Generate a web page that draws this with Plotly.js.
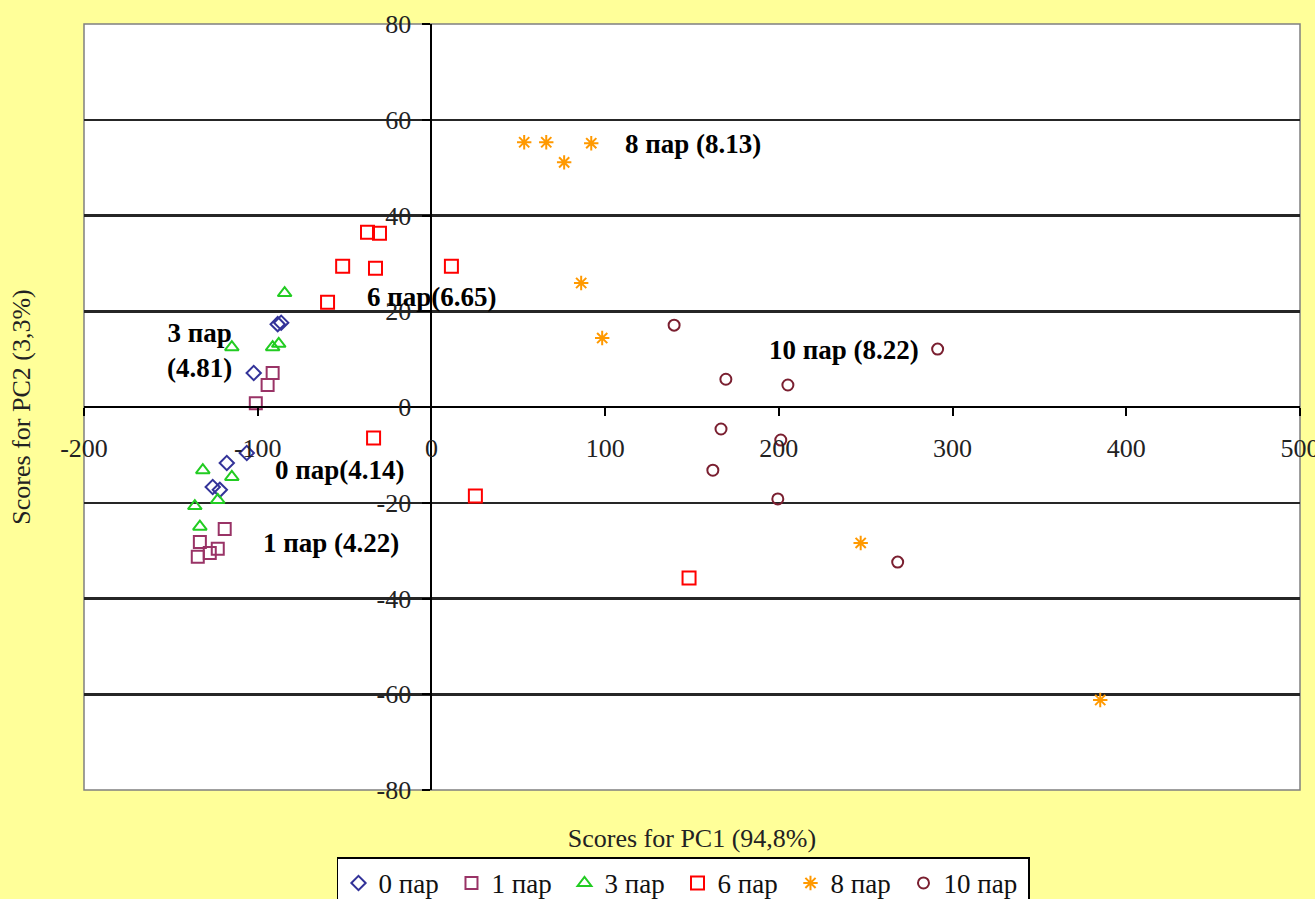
<!DOCTYPE html>
<html>
<head>
<meta charset="utf-8">
<script src="https://cdn.plot.ly/plotly-3.0.1.min.js"></script>
<style>
  html, body { margin: 0; padding: 0; background: #FFFF99; }
  #chart { width: 1315px; height: 899px; }
</style>
</head>
<body>
<div id="chart"></div>
<script>
// PCA scores (PC1, PC2) per group
const groupNames = ['0 пар', '1 пар', '3 пар', '6 пар', '8 пар', '10 пар'];

const pc1_0 = [-88.5, -86.5, -102.3, -106.3, -117.8, -125.9, -121.8];
const pc2_0 = [17.3, 17.6, 7.1, -9.6, -11.7, -16.7, -17.3];

const pc1_1 = [-91.4, -94.3, -101.1, -119.0, -123.0, -127.6, -133.3, -134.5];
const pc2_1 = [7.1, 4.6, 0.8, -25.5, -29.6, -30.5, -28.2, -31.3];

const pc1_3 = [-84.5, -91.4, -87.9, -114.9, -131.6, -114.9, -123.0, -136.2, -133.3];
const pc2_3 = [23.8, 12.5, 13.2, 12.5, -13.2, -14.6, -19.4, -20.7, -25.0];

const pc1_6 = [-36.8, -29.9, -51.1, -32.2, 11.5, -59.8, -33.3, 25.3, 148.3];
const pc2_6 = [36.5, 36.3, 29.4, 29.0, 29.4, 21.9, -6.5, -18.6, -35.7];

const pc1_8 = [53.4, 66.1, 76.4, 92.0, 86.2, 98.3, 247.1, 385.0];
const pc2_8 = [55.3, 55.3, 51.1, 55.1, 25.9, 14.4, -28.4, -61.2];

const pc1_10 = [139.7, 169.5, 205.2, 291.4, 166.7, 162.0, 199.4, 268.4, 201.1];
const pc2_10 = [17.1, 5.8, 4.6, 12.1, -4.6, -13.2, -19.2, -32.4, -6.9];

// Group labels: text and anchor point (PC1, PC2)
const labelTexts = ['8 пар (8.13)', '6 пар(6.65)', '10 пар (8.22)', '3 пар<br>(4.81)', '0 пар(4.14)', '1 пар (4.22)'];
const labelPC1 = [150.6, 0.6, 237.4, -133.3, -52.9, -58.0];
const labelPC2 = [54.9, 23.0, 11.9, 11.9, -13.2, -28.4];

// Axis ticks (plain hyphen for negatives)
const pc1Ticks = [-200, -100, 0, 100, 200, 300, 400, 500];
const pc1TickText = ['-200', '-100', '0', '100', '200', '300', '400', '500'];
const pc2Ticks = [-80, -60, -40, -20, 0, 20, 40, 60, 80];
const pc2TickText = ['-80', '-60', '-40', '-20', '0', '20', '40', '60', '80'];

const xTitle = 'Scores for PC1 (94,8%)';
const yTitle = 'Scores for PC2 (3,3%)';

const serif = 'Liberation Serif, Times New Roman, serif';

const styles = [
  { symbol: 'diamond-open', color: '#333399', size: 11 },
  { symbol: 'square-open', color: '#993366', size: 12 },
  { symbol: 'triangle-up-open', color: '#22CC22', size: 12 },
  { symbol: 'square-open', color: '#FF0000', size: 13 },
  { symbol: 'asterisk-open', color: '#FF9900', size: 12 },
  { symbol: 'circle-open', color: '#7A1F30', size: 11 }
];

const xs = [pc1_0, pc1_1, pc1_3, pc1_6, pc1_8, pc1_10];
const ys = [pc2_0, pc2_1, pc2_3, pc2_6, pc2_8, pc2_10];

const traces = groupNames.map((name, i) => ({
  type: 'scatter',
  mode: 'markers',
  name: name,
  x: xs[i],
  y: ys[i],
  xaxis: 'x',
  yaxis: 'y',
  legendwidth: i === groupNames.length - 1 ? 80 : undefined,
  marker: {
    symbol: styles[i].symbol,
    size: styles[i].size,
    color: styles[i].color,
    line: { color: styles[i].color, width: 2 }
  }
}));

// empty trace so the crossing axes get their own subplot
traces.push({ type: 'scatter', mode: 'markers', x: [], y: [], xaxis: 'x2', yaxis: 'y2', showlegend: false, hoverinfo: 'skip' });

const annotations = labelTexts.map((t, i) => ({
  x: labelPC1[i], y: labelPC2[i], xref: 'x', yref: 'y',
  text: t, showarrow: false, align: 'center',
  font: { family: serif, size: 27, color: '#000', weight: 'bold' }
}));

const xRange = [-200, 500];
const yRange = [-80, 80];

const layout = {
  width: 1315,
  height: 899,
  paper_bgcolor: '#FFFF99',
  plot_bgcolor: '#FFFFFF',
  margin: { l: 84, r: 15, t: 24, b: 109, autoexpand: false },
  showlegend: true,
  font: { family: serif, color: '#000' },
  xaxis: {
    range: xRange,
    showgrid: false, zeroline: false, showticklabels: false, ticks: '',
    showline: false,
    title: { text: xTitle, font: { family: serif, size: 26, color: '#222' }, standoff: 38 }
  },
  yaxis: {
    range: yRange,
    tickvals: pc2Ticks,
    showgrid: true, gridcolor: '#262626', gridwidth: 2.5,
    zeroline: false, showticklabels: false, ticks: '', showline: false,
    title: { text: yTitle, font: { family: serif, size: 26, color: '#222' }, standoff: 44 }
  },
  xaxis2: {
    overlaying: 'x', anchor: 'free', position: 0.5,
    range: xRange, tickvals: pc1Ticks, ticktext: pc1TickText,
    showgrid: false, zeroline: false,
    showline: true, linecolor: '#000', linewidth: 2,
    ticks: 'outside', ticklen: 8, tickwidth: 2, tickcolor: '#000',
    ticklabelstandoff: 10,
    ticklabeloverflow: 'allow',
    tickfont: { family: serif, size: 26, color: '#222' }
  },
  yaxis2: {
    overlaying: 'y', anchor: 'free', position: 200 / 700,
    range: yRange, tickvals: pc2Ticks, ticktext: pc2TickText,
    showgrid: false, zeroline: false,
    showline: true, linecolor: '#000', linewidth: 2,
    ticks: 'outside', ticklen: 8, tickwidth: 2, tickcolor: '#000',
    ticklabelstandoff: 6,
    ticklabeloverflow: 'allow',
    tickfont: { family: serif, size: 26, color: '#222' }
  },
  legend: {
    orientation: 'h',
    x: 0.493, xanchor: 'center',
    y: -0.088, yanchor: 'top',
    entrywidth: 68, entrywidthmode: 'pixels',
    bgcolor: '#FFFFFF', bordercolor: '#000', borderwidth: 1.5,
    font: { family: serif, size: 27, color: '#111' }
  },
  shapes: [{
    type: 'rect', xref: 'paper', yref: 'paper', x0: 0, x1: 1, y0: 0, y1: 1,
    line: { color: '#808080', width: 1.5 }, layer: 'below'
  }],
  annotations: annotations
};

Plotly.newPlot('chart', traces, layout, { staticPlot: true, displayModeBar: false });
</script>
</body>
</html>
